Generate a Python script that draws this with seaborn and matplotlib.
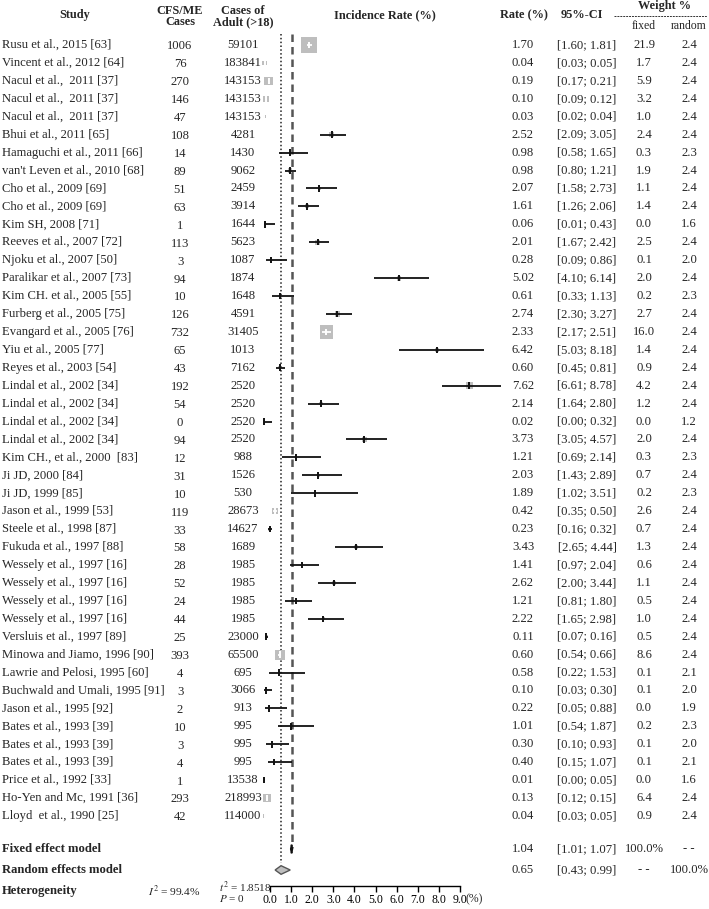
import matplotlib
matplotlib.use("Agg")
import matplotlib.pyplot as plt
import matplotlib.transforms as mtransforms
import numpy as np
import seaborn as sns

# study table
studies = [
    "Rusu et al., 2015 [63]", "Vincent et al., 2012 [64]", "Nacul et al.,  2011 [37]",
    "Nacul et al.,  2011 [37]", "Nacul et al.,  2011 [37]", "Bhui et al., 2011 [65]",
    "Hamaguchi et al., 2011 [66]", "van't Leven et al., 2010 [68]", "Cho et al., 2009 [69]",
    "Cho et al., 2009 [69]", "Kim SH, 2008 [71]", "Reeves et al., 2007 [72]",
    "Njoku et al., 2007 [50]", "Paralikar et al., 2007 [73]", "Kim CH. et al., 2005 [55]",
    "Furberg et al., 2005 [75]", "Evangard et al., 2005 [76]", "Yiu et al., 2005 [77]",
    "Reyes et al., 2003 [54]", "Lindal et al., 2002 [34]", "Lindal et al., 2002 [34]",
    "Lindal et al., 2002 [34]", "Lindal et al., 2002 [34]", "Kim CH., et al., 2000  [83]",
    "Ji JD, 2000 [84]", "Ji JD, 1999 [85]", "Jason et al., 1999 [53]",
    "Steele et al., 1998 [87]", "Fukuda et al., 1997 [88]", "Wessely et al., 1997 [16]",
    "Wessely et al., 1997 [16]", "Wessely et al., 1997 [16]", "Wessely et al., 1997 [16]",
    "Versluis et al., 1997 [89]", "Minowa and Jiamo, 1996 [90]", "Lawrie and Pelosi, 1995 [60]",
    "Buchwald and Umali, 1995 [91]", "Jason et al., 1995 [92]", "Bates et al., 1993 [39]",
    "Bates et al., 1993 [39]", "Bates et al., 1993 [39]", "Price et al., 1992 [33]",
    "Ho-Yen and Mc, 1991 [36]", "Lloyd  et al., 1990 [25]",
]
cases = [1006, 76, 270, 146, 47, 108, 14, 89, 51, 63, 1, 113, 3, 94, 10, 126, 732, 65, 43,
         192, 54, 0, 94, 12, 31, 10, 119, 33, 58, 28, 52, 24, 44, 25, 393, 4, 3, 2, 10, 3, 4,
         1, 293, 42]
adults = [59101, 183841, 143153, 143153, 143153, 4281, 1430, 9062, 2459, 3914, 1644, 5623,
          1087, 1874, 1648, 4591, 31405, 1013, 7162, 2520, 2520, 2520, 2520, 988, 1526, 530,
          28673, 14627, 1689, 1985, 1985, 1985, 1985, 23000, 65500, 695, 3066, 913, 995, 995,
          995, 13538, 218993, 114000]
rates = [1.70, 0.04, 0.19, 0.10, 0.03, 2.52, 0.98, 0.98, 2.07, 1.61, 0.06, 2.01, 0.28, 5.02,
         0.61, 2.74, 2.33, 6.42, 0.60, 7.62, 2.14, 0.02, 3.73, 1.21, 2.03, 1.89, 0.42, 0.23,
         3.43, 1.41, 2.62, 1.21, 2.22, 0.11, 0.60, 0.58, 0.10, 0.22, 1.01, 0.30, 0.40, 0.01,
         0.13, 0.04]
ci_lo = [1.60, 0.03, 0.17, 0.09, 0.02, 2.09, 0.58, 0.80, 1.58, 1.26, 0.01, 1.67, 0.09, 4.10,
         0.33, 2.30, 2.17, 5.03, 0.45, 6.61, 1.64, 0.00, 3.05, 0.69, 1.43, 1.02, 0.35, 0.16,
         2.65, 0.97, 2.00, 0.81, 1.65, 0.07, 0.54, 0.22, 0.03, 0.05, 0.54, 0.10, 0.15, 0.00,
         0.12, 0.03]
ci_hi = [1.81, 0.05, 0.21, 0.12, 0.04, 3.05, 1.65, 1.21, 2.73, 2.06, 0.43, 2.42, 0.86, 6.14,
         1.13, 3.27, 2.51, 8.18, 0.81, 8.78, 2.80, 0.32, 4.57, 2.14, 2.89, 3.51, 0.50, 0.32,
         4.44, 2.04, 3.44, 1.80, 2.98, 0.16, 0.66, 1.53, 0.30, 0.88, 1.87, 0.93, 1.07, 0.05,
         0.15, 0.05]
w_fixed = [21.9, 1.7, 5.9, 3.2, 1.0, 2.4, 0.3, 1.9, 1.1, 1.4, 0.0, 2.5, 0.1, 2.0, 0.2, 2.7,
           16.0, 1.4, 0.9, 4.2, 1.2, 0.0, 2.0, 0.3, 0.7, 0.2, 2.6, 0.7, 1.3, 0.6, 1.1, 0.5,
           1.0, 0.5, 8.6, 0.1, 0.1, 0.0, 0.2, 0.1, 0.1, 0.0, 6.4, 0.9]
w_random = [2.4, 2.4, 2.4, 2.4, 2.4, 2.4, 2.3, 2.4, 2.4, 2.4, 1.6, 2.4, 2.0, 2.4, 2.3, 2.4,
            2.4, 2.4, 2.4, 2.4, 2.4, 1.2, 2.4, 2.3, 2.4, 2.3, 2.4, 2.4, 2.4, 2.4, 2.4, 2.4,
            2.4, 2.4, 2.4, 2.1, 2.0, 1.9, 2.3, 2.0, 2.1, 1.6, 2.4, 2.4]

fixed_est, fixed_lo, fixed_hi = 1.04, 1.01, 1.07
random_est, random_lo, random_hi = 0.65, 0.43, 0.99
i2_text = "99.4%"
tau2_text = "1.8518"
p_text = "0"
ticks = [0, 1, 2, 3, 4, 5, 6, 7, 8, 9]

# layout (pixels of a 709 x 909 figure)
W, H = 709, 909
ROW0, DY = 45, 17.93
X0, PX_PER_UNIT = 263.5, 27.0


def row_of(py):
    return (py - ROW0) / DY


sns.set_theme(style="white")
plt.rcParams["font.family"] = ["Liberation Serif", "DejaVu Serif"]
plt.rcParams["mathtext.fontset"] = "stix"

fig = plt.figure(figsize=(W / 100, H / 100), dpi=100, facecolor="white")
ax_left, ax_right, ax_bottom = 250, 515, 888
ax = fig.add_axes([ax_left / W, (H - ax_bottom) / H, (ax_right - ax_left) / W, ax_bottom / H])
ax.set_xlim((ax_left - X0) / PX_PER_UNIT, (ax_right - X0) / PX_PER_UNIT)
ax.set_ylim(row_of(ax_bottom), row_of(0))
ax.patch.set_alpha(0)
for s in ["top", "left", "right", "bottom"]:
    ax.spines[s].set_visible(False)
ax.set_xticks([])
ax.set_yticks([])

n = len(studies)
rows = np.arange(n)
rates_a = np.array(rates)
lo_a = np.array(ci_lo)
hi_a = np.array(ci_hi)
wf = np.array(w_fixed)

# box side in pixels, proportional to sqrt(weight); CI drawn white when it fits inside
side_px = 3.42 * np.sqrt(wf)
inside = (hi_a - lo_a) * PX_PER_UNIT < side_px
line_cols = np.where(inside, "white", "#111111")

# reference lines: dotted = random effects, dashed = fixed effect
ax.vlines(random_est, row_of(34), row_of(863), color="#222222", lw=1.1, linestyles=(0, (1, 1.5)))
ax.vlines(fixed_est, row_of(34), row_of(848), color="#555555", lw=1.8, linestyles=(0, (3, 2)))

wmax = max(w_fixed)
sns.scatterplot(x=rates, y=rows, size=w_fixed, sizes=(0, 6.06 * wmax), size_norm=(0, wmax),
                marker="s", color="#BEBEBE", edgecolor="none", linewidth=0, legend=False,
                ax=ax, zorder=3)
ax.hlines(rows, lo_a, hi_a, colors=line_cols, lw=1.3, zorder=4)
ax.scatter(rates_a, rows, marker="|", s=22, c=list(line_cols), linewidths=1.4, zorder=5)

# summary diamonds
r_fixed = row_of(849)
r_random = row_of(870)
r_het = row_of(891)
hh = 0.24
ax.fill([fixed_lo, fixed_est, fixed_hi, fixed_est],
        [r_fixed, r_fixed - hh, r_fixed, r_fixed + hh], color="#333333", lw=1.2,
        edgecolor="#111111", zorder=5)
ax.fill([random_lo, random_est, random_hi, random_est],
        [r_random, r_random - hh, r_random, r_random + hh], facecolor="#BEBEBE",
        edgecolor="#555555", lw=1.0, zorder=5)

# scale bar drawn as its own axis (narrower than the plotted data, as in the source figure)
sc_left, sc_right, sc_y = 270, 460, 886
ax_s = fig.add_axes([sc_left / W, (H - sc_y) / H, (sc_right - sc_left) / W, 0.0001])
ax_s.patch.set_alpha(0)
for s in ["top", "left", "right"]:
    ax_s.spines[s].set_visible(False)
ax_s.spines["bottom"].set_color("black")
ax_s.spines["bottom"].set_linewidth(1.0)
ax_s.set_xlim(0, 9)
ax_s.set_yticks([])
ax_s.set_xticks(ticks)
ax_s.set_xticklabels([f"{t:.1f}" for t in ticks])
ax_s.tick_params(axis="x", direction="out", length=4, width=1, labelsize=8.5, pad=2,
                 colors="black", bottom=True)
ax_s.annotate("(%)", xy=(9, 0), xycoords=("data", "axes fraction"), xytext=(4.2, -4.9),
              textcoords="offset points", ha="left", va="top", fontsize=8.5)

trans = mtransforms.blended_transform_factory(fig.transFigure, ax.transData)
fs = 9.1
hfs = 8.8


def put(px, row, s, ha="center", **kw):
    ax.text(px / W, row, s, transform=trans, ha=ha, va="center", clip_on=False,
            fontsize=kw.pop("fontsize", fs), **kw)


# headers
put(75, row_of(15), "Study", fontsize=hfs, fontweight="bold")
put(180, row_of(16.5), "CFS/ME\nCases", fontsize=hfs, fontweight="bold", linespacing=0.95)
put(243, row_of(16.5), "Cases of\nAdult (>18)", fontsize=hfs, fontweight="bold",
    linespacing=0.95)
put(385, row_of(15), "Incidence Rate (%)", fontsize=hfs, fontweight="bold")
put(524, row_of(15), "Rate (%)", fontsize=hfs, fontweight="bold")
put(582, row_of(15), "95%-CI", fontsize=hfs, fontweight="bold")
put(664, row_of(6), "Weight %", fontsize=hfs, fontweight="bold")
ax.plot([614 / W, 707 / W], [row_of(16), row_of(16)], transform=trans, clip_on=False,
        color="#333333", lw=0.7, ls=(0, (2, 1)))
put(644, row_of(26), "fixed", fontsize=8.5)
put(689, row_of(26), "random", fontsize=8.5)

# study rows
for i in range(n):
    put(2, i, studies[i], ha="left")
    put(180, i + 0.08, str(cases[i]))
    put(243, i, str(adults[i]))
    put(523, i, f"{rates[i]:.2f}")
    put(587, i, f"[{ci_lo[i]:.2f}; {ci_hi[i]:.2f}]")
    put(644, i, f"{w_fixed[i]:.1f}")
    put(689, i, f"{w_random[i]:.1f}")

# summary rows
put(2, r_fixed, "Fixed effect model", ha="left", fontweight="bold")
put(523, r_fixed, f"{fixed_est:.2f}")
put(587, r_fixed, f"[{fixed_lo:.2f}; {fixed_hi:.2f}]")
put(644, r_fixed, "100.0%")
put(689, r_fixed, "- -")
put(2, r_random, "Random effects model", ha="left", fontweight="bold")
put(523, r_random, f"{random_est:.2f}")
put(587, r_random, f"[{random_lo:.2f}; {random_hi:.2f}]")
put(644, r_random, "- -")
put(689, r_random, "100.0%")
put(2, r_het, "Heterogeneity", ha="left", fontweight="bold")
put(148, r_het, r"$I^2$ = " + i2_text, ha="left", fontsize=8.2)
put(219, row_of(887), r"$t^2$ = " + tau2_text, ha="left", fontsize=8.0)
put(219, row_of(899), r"$P$ = " + p_text, ha="left", fontsize=8.0)

fig.savefig("out.png", dpi=100, facecolor="white")
